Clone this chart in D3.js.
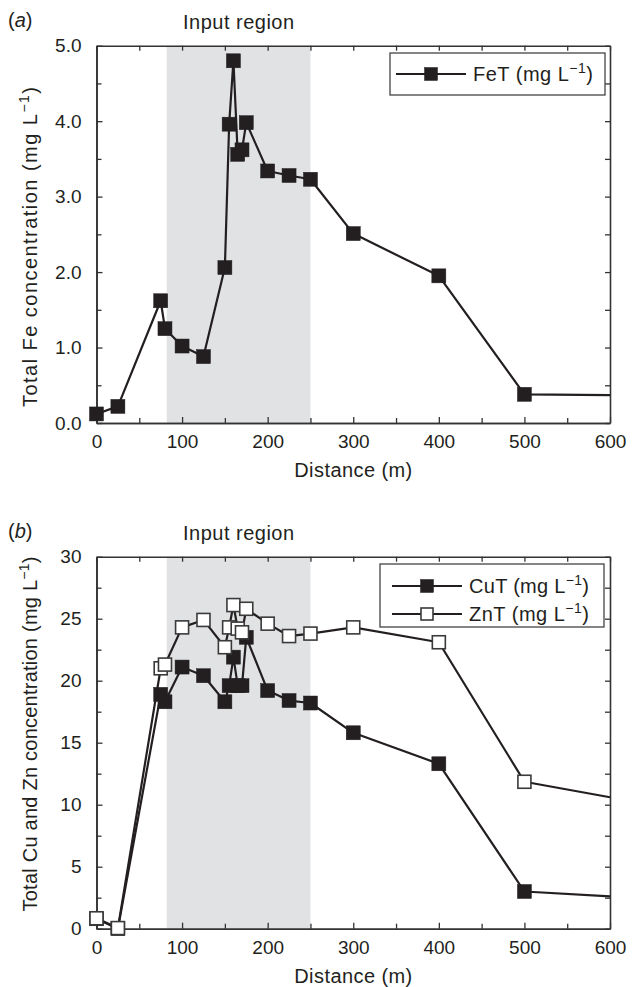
<!DOCTYPE html>
<html>
<head>
<meta charset="utf-8">
<script src="https://cdn.jsdelivr.net/npm/d3@7"></script>
<style>
  body { margin: 0; background: #fff; }
  text { font-family: "Liberation Sans", Arial, sans-serif; fill: #231f20; }
</style>
</head>
<body>
<div id="chart"></div>
<script>
// sampling distances (m) shared by all series
const distance = [0, 25, 75, 80, 100, 125, 150, 155, 160, 165, 170, 175, 200, 225, 250, 300, 400, 500];
// total concentrations (mg/L)
const feT = [0.12, 0.22, 1.62, 1.25, 1.02, 0.88, 2.06, 3.96, 4.80, 3.56, 3.62, 3.98, 3.34, 3.28, 3.23, 2.51, 1.95, 0.38];
const cuT = [0.8, 0.0, 18.9, 18.3, 21.1, 20.4, 18.3, 19.6, 21.9, 19.6, 19.6, 23.5, 19.2, 18.4, 18.2, 15.8, 13.3, 3.0];
const znT = [0.84, 0.05, 21.0, 21.3, 24.3, 24.9, 22.7, 24.3, 26.1, 24.2, 23.9, 25.8, 24.6, 23.6, 23.8, 24.3, 23.1, 11.85];
// where the lines run out of the frame (no marker drawn there)
const tailDistance = 600;
const feTail = 0.37, cuTail = 2.6, znTail = 10.6;

const inputRegion = [82, 250];
const xTicks = [0, 100, 200, 300, 400, 500, 600];
const feTicks = [0, 1, 2, 3, 4, 5];
const cuZnTicks = [0, 5, 10, 15, 20, 25, 30];

const width = 640, height = 987;
const left = 96.5, right = 610;

const svg = d3.select("#chart")
  .append("svg")
  .attr("width", width)
  .attr("height", height);

const ink = "#231f20";

// text with a "−1" superscript unit, stretched to a given length
function unitText(sel, label, len) {
  const t = sel.append("text").attr("font-size", 20);
  t.append("tspan").text(label + " (mg L");
  t.append("tspan").text("\u22121").attr("font-size", 14).attr("dy", -8);
  t.append("tspan").text(")").attr("dy", 8);
  if (len) t.attr("textLength", len).attr("lengthAdjust", "spacing");
  return t;
}

function drawPanel(p) {
  const x = d3.scaleLinear().domain([0, 600]).range([left, right]);
  const y = d3.scaleLinear().domain(p.yDomain).range([p.bottom, p.top]);
  const g = svg.append("g");

  // shaded input region
  g.append("rect")
    .attr("x", x(inputRegion[0]))
    .attr("y", p.top)
    .attr("width", x(inputRegion[1]) - x(inputRegion[0]))
    .attr("height", p.bottom - p.top)
    .attr("fill", "#e1e2e4");

  // axes, ticks pointing inward on all four sides
  const xMinor = d3.range(50, 600, 100);
  const yMinor = p.yMinor;

  function axisGroup(axis, tr) {
    const a = g.append("g").attr("transform", tr).call(axis);
    a.select(".domain").attr("stroke", "#333").attr("stroke-width", 1.6);
    a.selectAll(".tick line").attr("stroke", "#333").attr("stroke-width", 1.3);
    a.selectAll("text").attr("font-size", 19).attr("fill", ink)
      .attr("font-family", "Liberation Sans, Arial, sans-serif");
    return a;
  }

  axisGroup(d3.axisBottom(x).tickValues(xTicks).tickSize(-6).tickSizeOuter(0).tickPadding(12).tickFormat(d3.format("d")),
    `translate(0,${p.bottom})`);
  axisGroup(d3.axisBottom(x).tickValues(xMinor).tickSize(-5).tickSizeOuter(0).tickFormat(""),
    `translate(0,${p.bottom})`);
  axisGroup(d3.axisTop(x).tickValues(xTicks.concat(xMinor)).tickSize(-5).tickSizeOuter(0).tickFormat(""),
    `translate(0,${p.top})`);
  axisGroup(d3.axisLeft(y).tickValues(p.yTicks).tickSize(-6).tickSizeOuter(0).tickPadding(15).tickFormat(p.format),
    `translate(${left},0)`);
  axisGroup(d3.axisLeft(y).tickValues(yMinor).tickSize(-5).tickSizeOuter(0).tickFormat(""),
    `translate(${left},0)`);
  axisGroup(d3.axisRight(y).tickValues(p.yTicks.concat(yMinor)).tickSize(-5).tickSizeOuter(0).tickFormat(""),
    `translate(${right},0)`);

  const line = d3.line().x(d => x(d[0])).y(d => y(d[1]));

  p.series.forEach(s => {
    const pts = distance.map((d, i) => [d, s.values[i]]);
    g.append("path")
      .datum(pts.concat([[tailDistance, s.tail]]))
      .attr("fill", "none")
      .attr("stroke", ink)
      .attr("stroke-width", 2.2)
      .attr("stroke-linejoin", "round")
      .attr("d", line);
    g.selectAll(null)
      .data(pts)
      .enter()
      .append("rect")
      .attr("x", d => x(d[0]) - s.size / 2)
      .attr("y", d => y(d[1]) - s.size / 2)
      .attr("width", s.size)
      .attr("height", s.size)
      .attr("fill", s.fill)
      .attr("stroke", s.stroke)
      .attr("stroke-width", s.strokeWidth);
  });

  // legend
  const lg = svg.append("g");
  lg.append("rect")
    .attr("x", p.legend.x).attr("y", p.legend.y)
    .attr("width", p.legend.w).attr("height", p.legend.h)
    .attr("fill", "#fff").attr("stroke", "#444").attr("stroke-width", 1.3);
  p.series.forEach((s, i) => {
    const cy = p.legend.y + p.legend.rowStart + i * p.legend.rowGap;
    const x0 = p.legend.x + p.legend.lineStart, x1 = x0 + 70;
    lg.append("line").attr("x1", x0).attr("x2", x1).attr("y1", cy).attr("y2", cy)
      .attr("stroke", ink).attr("stroke-width", 2.2);
    const ms = s.size - 1;
    lg.append("rect")
      .attr("x", (x0 + x1) / 2 - ms / 2).attr("y", cy - ms / 2)
      .attr("width", ms).attr("height", ms)
      .attr("fill", s.fill).attr("stroke", s.stroke).attr("stroke-width", s.strokeWidth);
    unitText(lg, s.name, 120)
      .attr("x", x1 + 7).attr("y", cy + 7);
  });

  // panel tag and region label
  const tag = svg.append("text").attr("x", 8).attr("y", p.top - 19).attr("font-size", 20);
  tag.append("tspan").text("(");
  tag.append("tspan").text(p.tag).attr("font-style", "italic");
  tag.append("tspan").text(")");

  svg.append("text")
    .attr("x", (x(inputRegion[0]) + x(inputRegion[1])) / 2)
    .attr("y", p.top - 17)
    .attr("text-anchor", "middle")
    .attr("font-size", 20)
    .attr("textLength", 111)
    .attr("lengthAdjust", "spacing")
    .text("Input region");

  // axis titles
  svg.append("text")
    .attr("x", (left + right) / 2)
    .attr("y", p.bottom + 54)
    .attr("text-anchor", "middle")
    .attr("font-size", 20)
    .attr("textLength", 118)
    .attr("lengthAdjust", "spacing")
    .text("Distance (m)");

  unitText(svg, p.yTitle, p.yTitleLength)
    .attr("transform", `translate(37,${p.yTitleCenter}) rotate(-90)`)
    .attr("text-anchor", "middle");
}

drawPanel({
  tag: "a",
  top: 45.7,
  bottom: 423,
  yDomain: [0, 5],
  yTicks: feTicks,
  yMinor: [0.5, 1.5, 2.5, 3.5, 4.5],
  format: d3.format(".1f"),
  yTitle: "Total Fe concentration",
  yTitleCenter: 247,
  yTitleLength: 320,
  series: [
    { name: "FeT", values: feT, tail: feTail, fill: ink, stroke: ink, strokeWidth: 0.5, size: 14 }
  ],
  legend: { x: 390, y: 53, w: 215, h: 42, rowStart: 21, rowGap: 0, lineStart: 6 }
});

drawPanel({
  tag: "b",
  top: 556.7,
  bottom: 928.7,
  yDomain: [0, 30],
  yTicks: cuZnTicks,
  yMinor: [2.5, 7.5, 12.5, 17.5, 22.5, 27.5],
  format: d3.format("d"),
  yTitle: "Total Cu and Zn concentration",
  yTitleCenter: 734,
  yTitleLength: 355,
  series: [
    { name: "CuT", values: cuT, tail: cuTail, fill: ink, stroke: ink, strokeWidth: 0.5, size: 14 },
    { name: "ZnT", values: znT, tail: znTail, fill: "#fff", stroke: "#3a3a3a", strokeWidth: 1.6, size: 13 }
  ],
  legend: { x: 380, y: 564, w: 224, h: 63, rowStart: 22, rowGap: 28, lineStart: 12 }
});
</script>
</body>
</html>
